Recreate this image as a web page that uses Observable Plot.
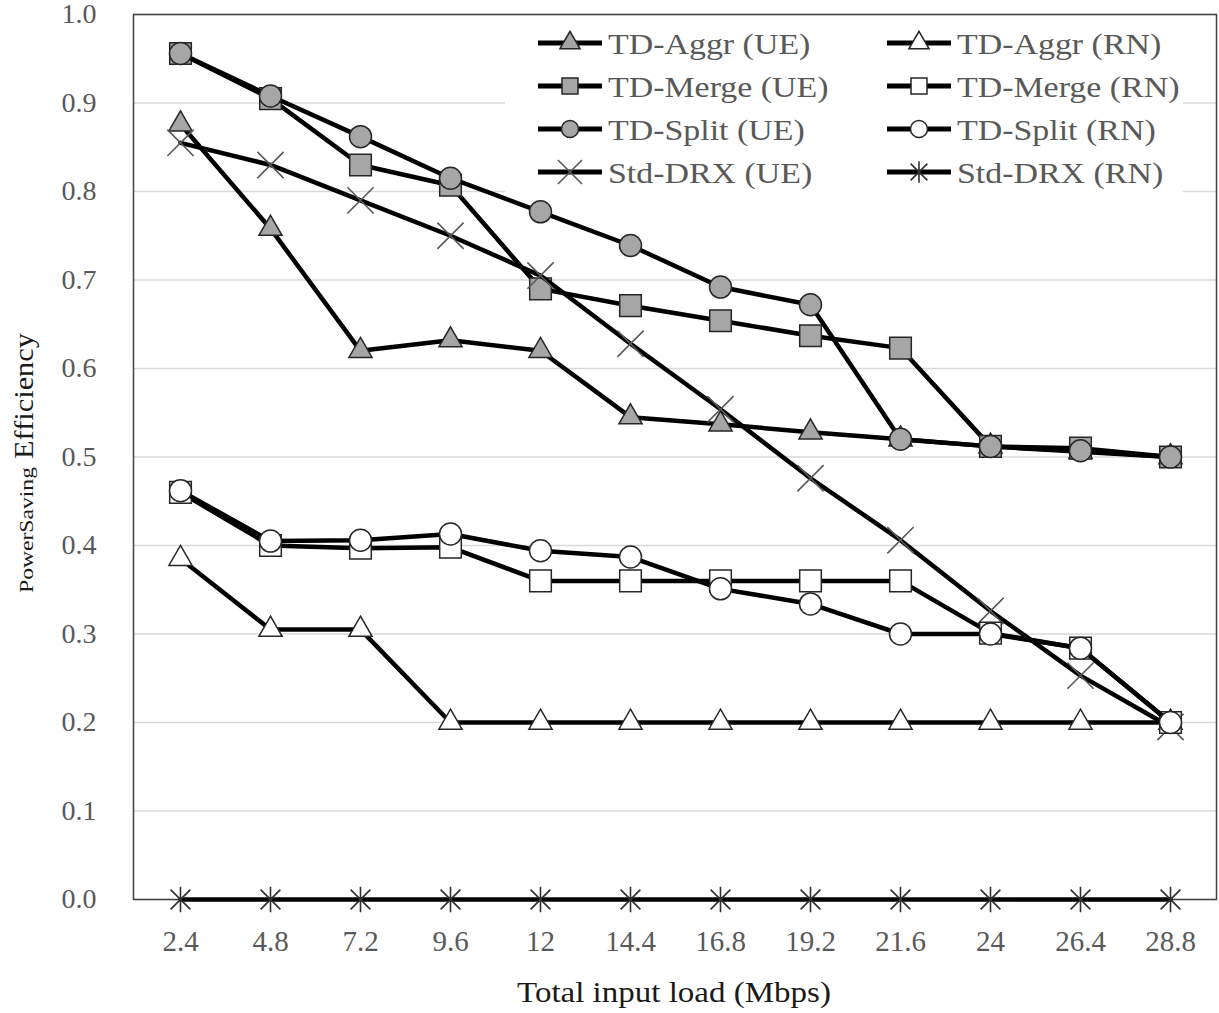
<!DOCTYPE html>
<html><head><meta charset="utf-8">
<script src="https://cdn.jsdelivr.net/npm/d3@7"></script>
<script src="https://cdn.jsdelivr.net/npm/@observablehq/plot@0.6"></script>
<style>
body{margin:0;background:#fff}
#chart svg{display:block}
#chart svg text{font-family:"Liberation Serif",serif}
</style></head><body><div id="chart"></div>
<script>
// ---- data ----
const loads = ["2.4","4.8","7.2","9.6","12","14.4","16.8","19.2","21.6","24","26.4","28.8"];
const yTicks = [0,0.1,0.2,0.3,0.4,0.5,0.6,0.7,0.8,0.9,1.0];
const aggrUE  = [0.876,0.758,0.62,0.632,0.62,0.545,0.537,0.528,0.52,0.512,0.506,0.5];
const mergeUE = [0.956,0.905,0.83,0.807,0.69,0.671,0.654,0.637,0.623,0.512,0.51,0.5];
const splitUE = [0.956,0.908,0.862,0.815,0.777,0.739,0.692,0.672,0.52,0.512,0.507,0.5];
const drxUE   = [0.855,0.83,0.79,0.75,0.705,0.628,0.554,0.476,0.406,0.326,0.253,0.195];
const aggrRN  = [0.385,0.305,0.305,0.2,0.2,0.2,0.2,0.2,0.2,0.2,0.2,0.2];
const mergeRN = [0.46,0.40,0.397,0.398,0.36,0.36,0.36,0.36,0.36,0.301,0.284,0.2];
const splitRN = [0.462,0.405,0.406,0.413,0.394,0.387,0.351,0.334,0.30,0.30,0.284,0.2];
const drxRN   = [0,0,0,0,0,0,0,0,0,0,0,0];
const seriesNames = ["TD-Aggr (UE)","TD-Merge (UE)","TD-Split (UE)","Std-DRX (UE)","TD-Aggr (RN)","TD-Merge (RN)","TD-Split (RN)","Std-DRX (RN)"];
const seriesValues = [aggrUE, mergeUE, splitUE, drxUE, aggrRN, mergeRN, splitRN, drxRN];
const seriesSymbols = ["triangle","square","circle","times","triangle","square","circle","star6"];
const seriesFills = ["#a6a6a6","#a6a6a6","#a6a6a6","none","#ffffff","#ffffff","#ffffff","none"];

// ---- build ----
const GRAY = "#595959";
// Excel-style asterisk: vertical spoke plus an X
const star6 = {draw(ctx, size) {
  const r = Math.sqrt(size) * 0.55, d = r * 0.78;
  ctx.moveTo(0, -r); ctx.lineTo(0, r);
  ctx.moveTo(-d, -d); ctx.lineTo(d, d);
  ctx.moveTo(-d, d); ctx.lineTo(d, -d);
}};
const d3sym = {triangle: d3.symbolTriangle, square: d3.symbolSquare, circle: d3.symbolCircle, times: d3.symbolTimes, star6};
const symStyle = {
  triangle: {r: 8.6, stroke: "#262626", strokeWidth: 1.5},
  square:   {r: 12.2, stroke: "#262626", strokeWidth: 1.5},
  circle:   {r: 11, stroke: "#262626", strokeWidth: 1.5},
  times:    {r: 12, stroke: "#595959", strokeWidth: 1.6},
  star6:    {r: 13, stroke: "#303030", strokeWidth: 1.6}
};
const marks = [
  Plot.gridY(yTicks, {stroke: "#d9d9d9", strokeOpacity: 1, strokeWidth: 1.5}),
  Plot.frame({stroke: "#404040", strokeWidth: 1.5}),
  Plot.axisX({tickSize: 0, tickPadding: 31, fontSize: 29, color: GRAY, label: null}),
  Plot.axisY(yTicks, {tickSize: 0, tickPadding: 37, tickFormat: d3.format(".1f"), fontSize: 28, color: GRAY, label: null})
];
seriesNames.forEach((name, i) => {
  const rows = loads.map((x, j) => ({x, y: seriesValues[i][j]}));
  const s = seriesSymbols[i], st = symStyle[s];
  marks.push(Plot.line(rows, {x: "x", y: "y", stroke: "#000", strokeWidth: 4.5}));
  marks.push(Plot.dot(rows, {x: "x", y: "y", symbol: d3sym[s], r: st.r,
    fill: seriesFills[i], stroke: st.stroke, strokeWidth: st.strokeWidth}));
});

const chart = Plot.plot({
  width: 1219, height: 1013,
  marginLeft: 133, marginRight: 3, marginTop: 14, marginBottom: 114,
  x: {type: "point", domain: loads, padding: 0.5},
  y: {domain: [0, 1]},
  style: {fontFamily: "Liberation Serif", background: "#fff"},
  marks
});
document.getElementById("chart").appendChild(chart);

const svg = d3.select(chart);
const stretch = (sel, f) => sel.each(function(){ const L = this.getComputedTextLength(); d3.select(this).attr("textLength", L*f).attr("lengthAdjust","spacingAndGlyphs"); });

// x axis title
svg.append("text").attr("x", 674).attr("y", 1002).attr("text-anchor", "middle")
  .attr("font-size", 30).attr("fill", "#1a1a1a").text("Total input load (Mbps)")
  .call(s => stretch(s, 1.1));
// y axis title
svg.append("text").attr("transform", "translate(33,593) rotate(-90)").attr("text-anchor", "start")
  .attr("font-size", 19).attr("fill", "#1a1a1a").attr("textLength", 126).attr("lengthAdjust","spacingAndGlyphs").text("PowerSaving");
svg.append("text").attr("transform", "translate(33,459) rotate(-90)").attr("text-anchor", "start")
  .attr("font-size", 28).attr("fill", "#1a1a1a").attr("textLength", 126).attr("lengthAdjust","spacingAndGlyphs").text("Efficiency");

// legend
const lg = svg.append("g");
lg.append("rect").attr("x", 505).attr("y", 19).attr("width", 678).attr("height", 177).attr("fill", "#fff");
const legR = {triangle: 7.5, square: 9, circle: 8.5, times: 11, star6: 11};
seriesNames.forEach((name, i) => {
  const col = Math.floor(i / 4), row = i % 4;
  const x0 = col === 0 ? 538 : 887, cy = 43 + row * 43;
  const g = lg.append("g");
  g.append("line").attr("x1", x0).attr("x2", x0 + 64).attr("y1", cy).attr("y2", cy).attr("stroke", "#000").attr("stroke-width", 5);
  const s = seriesSymbols[i], st = symStyle[s], r = legR[s];
  g.append("path").attr("transform", `translate(${x0 + 32},${cy})`)
    .attr("d", d3.symbol(d3sym[s], Math.PI * r * r)())
    .attr("fill", seriesFills[i]).attr("stroke", st.stroke).attr("stroke-width", st.strokeWidth);
  g.append("text").attr("x", x0 + 70).attr("y", cy + 11).attr("text-anchor", "start")
    .attr("font-size", 30).attr("fill", GRAY).text(name)
    .call(t => stretch(t, 1.13));
});
</script></body></html>
